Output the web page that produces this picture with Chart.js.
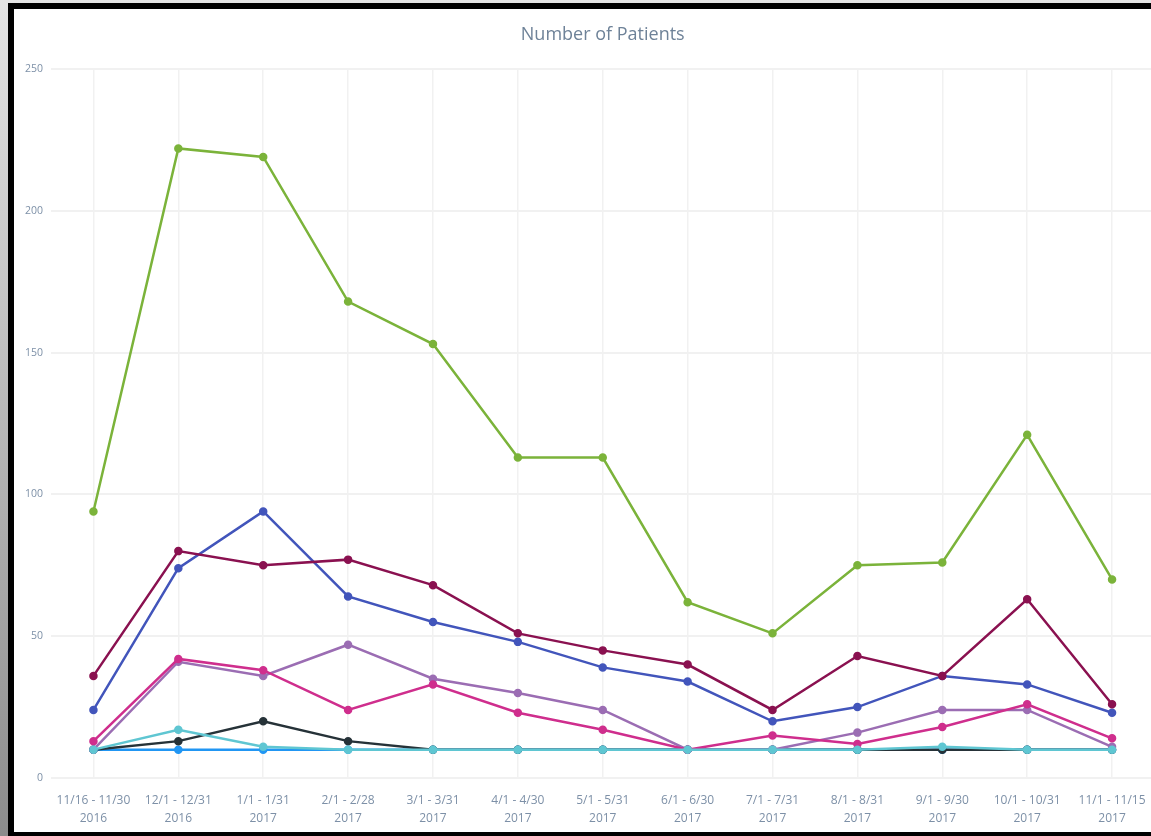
<!DOCTYPE html>
<html lang="en">
<head>
    <meta charset="UTF-8">
    <title>Number of Patients</title>
    <script src="https://cdn.jsdelivr.net/npm/chart.js"></script>
    <style>
        html, body {
            margin: 0;
            width: 1151px;
            height: 836px;
            overflow: hidden;
            background: linear-gradient(#e4e4e4, #8c8c8c);
        }
        .frame {
            position: absolute;
            left: 8px;
            top: 3px;
            width: 1170px;
            height: 823px;
            background: #fff;
            border-top: 6px solid #000;
            border-left: 6px solid #000;
            border-bottom: 5px solid #000;
        }
        #patientsChart {
            position: absolute;
            left: 0;
            top: 0;
        }
    </style>
</head>
<body>
    <div class="frame">
        <canvas id="patientsChart" width="1160" height="823"></canvas>
    </div>
    <script>
        // Periodos (duas linhas por rotulo)
        const periods = [
            ['11/16 - 11/30', '2016'],
            ['12/1 - 12/31', '2016'],
            ['1/1 - 1/31', '2017'],
            ['2/1 - 2/28', '2017'],
            ['3/1 - 3/31', '2017'],
            ['4/1 - 4/30', '2017'],
            ['5/1 - 5/31', '2017'],
            ['6/1 - 6/30', '2017'],
            ['7/1 - 7/31', '2017'],
            ['8/1 - 8/31', '2017'],
            ['9/1 - 9/30', '2017'],
            ['10/1 - 10/31', '2017'],
            ['11/1 - 11/15', '2017']
        ];

        // Pacientes por grupo
        const groupCyan    = [10, 17, 11, 10, 10, 10, 10, 10, 10, 10, 11, 10, 10];
        const groupMagenta = [13, 42, 38, 24, 33, 23, 17, 10, 15, 12, 18, 26, 14];
        const groupPurple  = [10, 41, 36, 47, 35, 30, 24, 10, 10, 16, 24, 24, 11];
        const groupMaroon  = [36, 80, 75, 77, 68, 51, 45, 40, 24, 43, 36, 63, 26];
        const groupIndigo  = [24, 74, 94, 64, 55, 48, 39, 34, 20, 25, 36, 33, 23];
        const groupGreen   = [94, 222, 219, 168, 153, 113, 113, 62, 51, 75, 76, 121, 70];
        const groupDark    = [10, 13, 20, 13, 10, 10, 10, 10, 10, 10, 10, 10, 10];
        const groupBlue    = [10, 10, 10, 10, 10, 10, 10, 10, 10, 10, 10, 10, 10];

        const yTicks = [0, 50, 100, 150, 200, 250];

        const labelColor = '#7d90a7';
        const gridColor = '#f1f1f1';

        // o primeiro dataset fica por cima no desenho
        function serie(label, data, color) {
            return {
                label: label,
                data: data,
                borderColor: color,
                backgroundColor: color,
                borderWidth: 2.5,
                pointRadius: 3,
                pointHoverRadius: 5,
                tension: 0,
                fill: false
            };
        }

        const ctx = document.getElementById('patientsChart').getContext('2d');
        new Chart(ctx, {
            type: 'line',
            data: {
                labels: periods,
                datasets: [
                    serie('Cyan', groupCyan, '#5fc6d2'),
                    serie('Magenta', groupMagenta, '#cf2e8d'),
                    serie('Purple', groupPurple, '#9b6db3'),
                    serie('Maroon', groupMaroon, '#8a1150'),
                    serie('Indigo', groupIndigo, '#4255bb'),
                    serie('Green', groupGreen, '#7bb33a'),
                    serie('Dark', groupDark, '#263238'),
                    serie('Blue', groupBlue, '#2196f3')
                ]
            },
            options: {
                responsive: false,
                animation: false,
                layout: { padding: { left: 0, right: 19.5, top: 0, bottom: 0 } },
                plugins: {
                    legend: { display: false },
                    title: {
                        display: true,
                        text: 'Number of Patients',
                        fullSize: false,
                        color: '#6e8298',
                        font: { family: 'Open Sans', size: 18, weight: 'normal', lineHeight: 1.2 },
                        padding: { top: 15, bottom: 23.4 }
                    }
                },
                scales: {
                    x: {
                        offset: true,
                        grid: { color: gridColor, lineWidth: 1.5, drawTicks: false, offset: false },
                        border: { display: false },
                        ticks: {
                            color: labelColor,
                            padding: 14,
                            maxRotation: 0,
                            autoSkip: false,
                            font: { family: 'Open Sans', size: 12, lineHeight: 1.45 }
                        },
                        afterFit: scale => { scale.height = 54; }
                    },
                    y: {
                        min: 0,
                        max: 250,
                        afterBuildTicks: scale => {
                            scale.ticks = yTicks.map(v => ({ value: v }));
                        },
                        grid: { color: gridColor, lineWidth: 2, drawTicks: false },
                        border: { display: false },
                        ticks: {
                            color: labelColor,
                            padding: 8,
                            font: { family: 'Open Sans', size: 10.5 }
                        },
                        afterFit: scale => { scale.width = 37; }
                    }
                }
            }
        });
    </script>
</body>
</html>
